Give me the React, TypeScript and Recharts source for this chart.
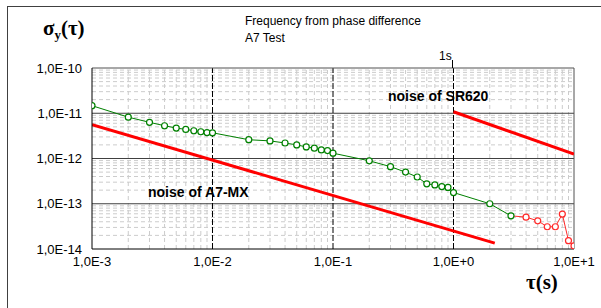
import React from 'react';
import { LineChart, Line, XAxis, YAxis, ReferenceLine } from 'recharts';

// measured allan deviation, green part (phase difference)
const tauGreen = [0.001, 0.002, 0.003, 0.004, 0.005, 0.006, 0.007, 0.008, 0.009, 0.01, 0.02, 0.03, 0.04, 0.05, 0.06, 0.07, 0.08, 0.09, 0.1, 0.2, 0.3, 0.4, 0.5, 0.6, 0.7, 0.8, 0.9, 1, 2, 3];
const sigmaGreen = [1.47e-11, 8.2e-12, 6.3e-12, 5.3e-12, 4.7e-12, 4.4e-12, 4.1e-12, 3.9e-12, 3.75e-12, 3.7e-12, 2.6e-12, 2.45e-12, 2.2e-12, 2.0e-12, 1.8e-12, 1.69e-12, 1.55e-12, 1.5e-12, 1.31e-12, 8.9e-13, 6.6e-13, 5.0e-13, 3.9e-13, 2.75e-13, 2.6e-13, 2.4e-13, 2.3e-13, 1.77e-13, 1.0e-13, 5.4e-14];

// red tail (long taus)
const tauRed = [3, 4, 5, 6, 7, 8, 9, 10];
const sigmaRed = [5.4e-14, 5.06e-14, 4.2e-14, 3.1e-14, 3.1e-14, 5.9e-14, 1.53e-14, 1.17e-14];

// noise floors
const tauSR620 = [1, 10];
const sigmaSR620 = [1.08e-11, 1.25e-12];
const tauA7 = [0.001, 2.2];
const sigmaA7 = [5.6e-12, 1.35e-14];

const xDecades = [0.001, 0.01, 0.1, 1, 10];
const yDecades = [1e-14, 1e-13, 1e-12, 1e-11, 1e-10];
const MINOR = [2, 3, 4, 5, 6, 7, 8, 9];

const toRows = (t: number[], s: number[]) => t.map((tau, i) => ({ tau, sigma: s[i] }));
const greenData = toRows(tauGreen, sigmaGreen);
const redData = toRows(tauRed, sigmaRed);
const sr620Data = toRows(tauSR620, sigmaSR620);
const a7Data = toRows(tauA7, sigmaA7);

const xMinor = xDecades.slice(0, -1).flatMap(d => MINOR.map(m => m * d));
const yMinor = yDecades.slice(0, -1).flatMap(d => MINOR.map(m => m * d));

const fmtE = (v: number) => {
  const e = Math.round(Math.log10(v));
  return `1,0E${e >= 0 ? '+' : '-'}${Math.abs(e)}`;
};

const GREEN = '#008000';
const RED = '#ff2a2a';

const App: React.FC = () => {
  const tickStyle = { fontSize: 13, fill: '#000', fontFamily: 'Arial, Liberation Sans, sans-serif' };

  return (
    <div style={{ position: 'absolute', left: 0, top: 0, width: 601, height: 308, background: '#fff', fontFamily: 'Arial, Liberation Sans, sans-serif', overflow: 'hidden' }}>
      {/* window frame */}
      <div style={{ position: 'absolute', left: 7, top: 6, width: 600, height: 310, borderLeft: '1px solid #404040', borderTop: '1px solid #404040' }} />

      <LineChart width={601} height={308} margin={{ top: 68, right: 27, left: 0, bottom: 34 }}>
        <XAxis
          dataKey="tau"
          type="number"
          scale="log"
          domain={[0.001, 10]}
          ticks={xDecades}
          tickFormatter={fmtE}
          allowDataOverflow
          height={25}
          tickLine={false}
          tick={tickStyle}
          stroke="#000"
        />
        <YAxis
          dataKey="sigma"
          type="number"
          scale="log"
          domain={[1e-14, 1e-10]}
          ticks={yDecades}
          tickFormatter={fmtE}
          allowDataOverflow
          width={92}
          tickLine={false}
          tickMargin={4}
          tick={tickStyle}
          stroke="#000"
        />

        {/* minor grid */}
        {xMinor.map(v => (
          <ReferenceLine key={`xm-${v}`} x={v} stroke="#cccccc" strokeDasharray="4 3" ifOverflow="visible" />
        ))}
        {yMinor.map(v => (
          <ReferenceLine key={`ym-${v}`} y={v} stroke="#cccccc" strokeDasharray="4 3" ifOverflow="visible" />
        ))}
        {/* major grid */}
        {yDecades.slice(1, -1).map(v => (
          <ReferenceLine key={`yM-${v}`} y={v} stroke="#404040" ifOverflow="visible" />
        ))}
        {xDecades.slice(1, -1).map(v => (
          <ReferenceLine key={`xM-${v}`} x={v} stroke="#000" strokeDasharray="6 2" ifOverflow="visible" />
        ))}
        <ReferenceLine y={1e-10} stroke="#505050" ifOverflow="visible" />
        <ReferenceLine x={10} stroke="#505050" ifOverflow="visible" />

        <Line data={sr620Data} dataKey="sigma" stroke="#ff0000" strokeWidth={3} dot={false} isAnimationActive={false} />
        <Line data={a7Data} dataKey="sigma" stroke="#ff0000" strokeWidth={3} dot={false} isAnimationActive={false} />
        <Line
          data={redData}
          dataKey="sigma"
          stroke={RED}
          strokeWidth={1}
          isAnimationActive={false}
          dot={(p: any) =>
            p.index === 0 ? <g key={`rd-${p.index}`} /> : (
              <circle key={`rd-${p.index}`} cx={p.cx} cy={p.cy} r={3} fill="#fff" stroke={RED} strokeWidth={1.2} />
            )
          }
        />
        <Line
          data={greenData}
          dataKey="sigma"
          stroke={GREEN}
          strokeWidth={1}
          isAnimationActive={false}
          dot={(p: any) => (
            <circle key={`gd-${p.index}`} cx={p.cx} cy={p.cy} r={3} fill="#fff" stroke={GREEN} strokeWidth={1.2} />
          )}
        />
      </LineChart>

      {/* 1s marker above the plot */}
      <div style={{ position: 'absolute', left: 452, top: 60, width: 1, height: 8, background: '#000' }} />
      <div style={{ position: 'absolute', left: 439, top: 49, fontSize: 12, lineHeight: '14px' }}>1s</div>

      <div style={{ position: 'absolute', left: 245, top: 13, fontSize: 12, lineHeight: '17px', color: '#000' }}>
        Frequency from phase difference<br />A7 Test
      </div>

      <div style={{ position: 'absolute', left: 43, top: 16, fontSize: 21, fontWeight: 'bold', fontFamily: 'Liberation Serif, DejaVu Serif, serif', whiteSpace: 'nowrap' }}>
        σ<sub style={{ fontSize: 13, verticalAlign: '-4px' }}>y</sub>(τ)
      </div>
      <div style={{ position: 'absolute', left: 526, top: 270, fontSize: 21, fontWeight: 'bold', fontFamily: 'Liberation Serif, DejaVu Serif, serif', whiteSpace: 'nowrap' }}>
        τ(s)
      </div>

      <div style={{ position: 'absolute', left: 388, top: 88, fontSize: 14, fontWeight: 'bold', whiteSpace: 'nowrap' }}>noise of SR620</div>
      <div style={{ position: 'absolute', left: 148, top: 184, fontSize: 14, fontWeight: 'bold', whiteSpace: 'nowrap' }}>noise of A7-MX</div>
    </div>
  );
};

export default App;
